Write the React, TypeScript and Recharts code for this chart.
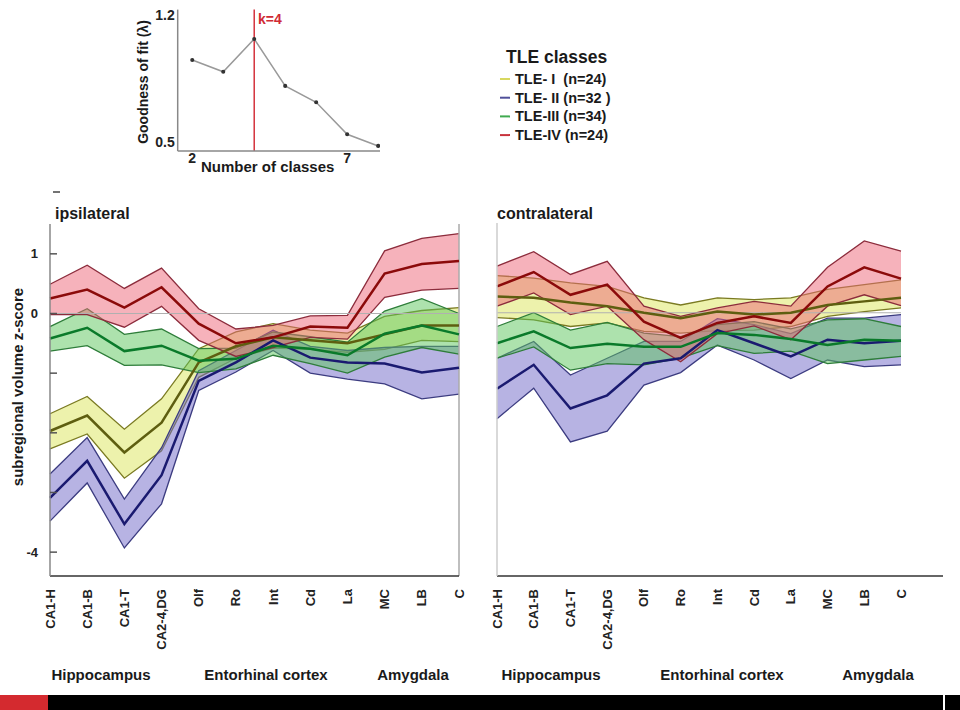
import React from 'react';
import {
  ComposedChart, LineChart, Line, Area, XAxis, YAxis, ReferenceLine,
} from 'recharts';

// subregions along the x axis
const regions = ['CA1-H', 'CA1-B', 'CA1-T', 'CA2-4,DG', 'Olf', 'Ro', 'Int', 'Cd', 'La', 'MC', 'LB', 'C'];

// ipsilateral: mean and band (lo / hi) per class
const ipsiIMean = [-1.97, -1.71, -2.33, -1.83, -0.82, -0.55, -0.4, -0.45, -0.5, -0.35, -0.2, -0.2];
const ipsiIHi = [-1.68, -1.39, -1.94, -1.43, -0.59, -0.31, -0.17, -0.28, -0.33, -0.05, 0.05, 0.1];
const ipsiILo = [-2.27, -2.02, -2.76, -2.3, -1.07, -0.75, -0.58, -0.6, -0.65, -0.6, -0.45, -0.47];

const ipsiIIMean = [-3.09, -2.47, -3.53, -2.71, -1.13, -0.82, -0.45, -0.74, -0.82, -0.84, -0.99, -0.91];
const ipsiIIHi = [-2.69, -2.08, -3.11, -2.25, -0.96, -0.62, -0.28, -0.55, -0.62, -0.57, -0.55, -0.55];
const ipsiIILo = [-3.48, -2.84, -3.93, -3.19, -1.29, -0.98, -0.62, -1.0, -1.1, -1.18, -1.43, -1.35];

const ipsiIIIMean = [-0.42, -0.24, -0.63, -0.54, -0.79, -0.76, -0.54, -0.59, -0.7, -0.34, -0.2, -0.35];
const ipsiIIIHi = [-0.22, 0.08, -0.35, -0.26, -0.59, -0.58, -0.31, -0.39, -0.48, 0.04, 0.25, 0.0];
const ipsiIIILo = [-0.63, -0.54, -0.87, -0.86, -0.99, -0.93, -0.7, -0.84, -1.0, -0.73, -0.57, -0.68];

const ipsiIVMean = [0.25, 0.4, 0.1, 0.44, -0.17, -0.5, -0.4, -0.22, -0.24, 0.67, 0.83, 0.88];
const ipsiIVHi = [0.49, 0.81, 0.42, 0.76, 0.08, -0.26, -0.2, -0.04, -0.03, 1.05, 1.26, 1.34];
const ipsiIVLo = [-0.02, -0.02, -0.23, 0.12, -0.45, -0.72, -0.57, -0.4, -0.43, 0.27, 0.39, 0.42];

// contralateral
const contraIMean = [0.27, 0.25, 0.17, 0.11, 0, -0.09, 0.02, -0.03, 0, 0.13, 0.19, 0.25];
const contraIHi = [0.62, 0.58, 0.5, 0.44, 0.25, 0.13, 0.25, 0.22, 0.25, 0.39, 0.47, 0.55];
const contraILo = [-0.08, -0.12, -0.23, -0.17, -0.31, -0.34, -0.3, -0.29, -0.23, -0.06, 0.02, 0.08];

const contraIIMean = [-1.27, -0.87, -1.6, -1.38, -0.85, -0.76, -0.29, -0.51, -0.73, -0.45, -0.51, -0.47];
const contraIIHi = [-0.76, -0.48, -1.04, -0.76, -0.48, -0.48, -0.1, -0.2, -0.35, -0.09, -0.09, -0.03];
const contraIILo = [-1.77, -1.26, -2.16, -1.98, -1.21, -1.0, -0.54, -0.79, -1.1, -0.79, -0.9, -0.87];

const contraIIIMean = [-0.51, -0.31, -0.59, -0.52, -0.57, -0.57, -0.34, -0.37, -0.44, -0.54, -0.45, -0.47];
const contraIIIHi = [-0.23, 0.0, -0.29, -0.16, -0.34, -0.4, -0.2, -0.15, -0.27, -0.12, -0.1, -0.23];
const contraIIILo = [-0.76, -0.57, -0.96, -0.85, -0.87, -0.76, -0.55, -0.68, -0.64, -0.85, -0.79, -0.73];

const contraIVMean = [0.44, 0.68, 0.3, 0.47, -0.15, -0.42, -0.17, -0.06, -0.17, 0.44, 0.76, 0.57];
const contraIVHi = [0.78, 1.02, 0.64, 0.86, 0.11, -0.06, 0.08, 0.19, 0.11, 0.76, 1.2, 1.03];
const contraIVLo = [0.11, 0.33, -0.03, 0.11, -0.45, -0.82, -0.35, -0.22, -0.45, 0.11, 0.3, 0.12];

// inset: goodness of fit by number of classes
const classCounts = [2, 3, 4, 5, 6, 7, 8];
const fitValues = [0.952, 0.887, 1.068, 0.809, 0.719, 0.542, 0.478];

const legendItems = [
  { label: 'TLE- I  (n=24)', color: '#d8d860' },
  { label: 'TLE- II (n=32 )', color: '#50509a' },
  { label: 'TLE-III (n=34)', color: '#40aa50' },
  { label: 'TLE-IV (n=24)', color: '#c8323c' },
];

const STYLE = {
  I: { fill: '#dce65a', edge: '#7a7a22', mean: '#5e5e10' },
  II: { fill: '#7068c8', edge: '#3c3c80', mean: '#1a1a70' },
  III: { fill: '#5cc65c', edge: '#2e7d3a', mean: '#0a7a2a' },
  IV: { fill: '#ee6677', edge: '#8c2c3c', mean: '#8b0a0a' },
};

const FONT = '"Liberation Sans", Arial, sans-serif';

const buildRows = (sets: Record<string, number[][]>) =>
  regions.map((region, i) => {
    const row: any = { region };
    Object.keys(sets).forEach((k) => {
      const [mean, lo, hi] = sets[k];
      row[k] = [lo[i], hi[i]];
      row[k + 'm'] = mean[i];
    });
    return row;
  });

const ipsiData = buildRows({
  I: [ipsiIMean, ipsiILo, ipsiIHi],
  II: [ipsiIIMean, ipsiIILo, ipsiIIHi],
  III: [ipsiIIIMean, ipsiIIILo, ipsiIIIHi],
  IV: [ipsiIVMean, ipsiIVLo, ipsiIVHi],
});

const contraData = buildRows({
  I: [contraIMean, contraILo, contraIHi],
  II: [contraIIMean, contraIILo, contraIIHi],
  III: [contraIIIMean, contraIIILo, contraIIIHi],
  IV: [contraIVMean, contraIVLo, contraIVHi],
});

const fitData = classCounts.map((k, i) => ({ k, fit: fitValues[i] }));

const RegionTick = ({ x, y, payload }: any) => (
  <text
    x={x}
    y={y + 5}
    transform={`rotate(-90 ${x} ${y + 5})`}
    textAnchor="end"
    dy="0.35em"
    fontFamily={FONT}
    fontWeight="bold"
    fontSize={13}
    fill="#222"
  >
    {payload.value}
  </text>
);

const ZTick = ({ x, y, payload }: any) => {
  const v = payload.value;
  const show = v === 1 || v === 0 || v === -4;
  return (
    <g>
      <line x1={x + 10} x2={x + 17} y1={y} y2={y} stroke="#555" strokeWidth={1.5} />
      {show && (
        <text x={x - 2} y={y} dy="0.35em" textAnchor="end" fontFamily={FONT} fontWeight="bold" fontSize={13} fill="#222">
          {v}
        </text>
      )}
    </g>
  );
};

const order = ['I', 'II', 'III', 'IV'] as const;

function renderSeries() {
  const out: any[] = [];
  order.forEach((k) => {
    out.push(
      <Area
        key={k}
        type="linear"
        dataKey={k}
        fill={STYLE[k].fill}
        fillOpacity={0.5}
        stroke={STYLE[k].edge}
        strokeWidth={1.3}
        isAnimationActive={false}
        activeDot={false}
      />
    );
  });
  order.forEach((k) => {
    out.push(
      <Line
        key={k + 'm'}
        type="linear"
        dataKey={k + 'm'}
        stroke={STYLE[k].mean}
        strokeWidth={2.5}
        dot={false}
        activeDot={false}
        isAnimationActive={false}
      />
    );
  });
  return out;
}

function PanelChart({ data, left, side }: { data: any[]; left: number; side: 'ipsi' | 'contra' }) {
  const ipsi = side === 'ipsi';
  return (
    <div style={{ position: 'absolute', left, top: 180 }}>
      <ComposedChart
        width={ipsi ? 470 : 480}
        height={480}
        data={data}
        margin={ipsi ? { top: 44, right: 11, bottom: 4, left: 10 } : { top: 43, right: 7, bottom: 4, left: 17 }}
      >
        <XAxis
          dataKey="region"
          type="category"
          scale="point"
          interval={0}
          padding={ipsi ? { left: 0, right: 0 } : { left: 0, right: 42 }}
          height={80}
          tickLine={false}
          tick={<RegionTick />}
          axisLine={{ stroke: '#333', strokeWidth: 1.5 }}
        />
        <YAxis
          type="number"
          domain={[-4.4, 1.5]}
          allowDataOverflow
          width={ipsi ? 40 : 10}
          ticks={ipsi ? [1, 0, -1, -2, -3, -4] : []}
          tick={ipsi ? <ZTick /> : false}
          tickLine={false}
          tickSize={0}
          tickMargin={10}
          axisLine={{ stroke: ipsi ? '#888' : '#ccc', strokeWidth: 1.5 }}
        />
        <ReferenceLine
          segment={[{ x: 'CA1-H', y: 0 }, { x: 'C', y: 0 }]}
          stroke="#b0b0b0"
          strokeWidth={1.2}
        />
        {ipsi && <ReferenceLine x="C" stroke="#aaa" strokeWidth={1.5} />}
        {renderSeries()}
      </ComposedChart>
    </div>
  );
}

function FitInset() {
  return (
    <div style={{ position: 'absolute', left: 100, top: 0 }}>
      <LineChart width={300} height={185} data={fitData} margin={{ top: 9.6, right: 20, bottom: 4, left: 37.7 }}>
        <XAxis
          dataKey="k"
          type="number"
          domain={[1.53, 8.06]}
          allowDataOverflow
          ticks={[2, 7]}
          height={30}
          tickLine={false}
          tickSize={0}
          tickMargin={2}
          axisLine={{ stroke: '#888', strokeWidth: 1.5 }}
          tick={{ fontFamily: FONT, fontWeight: 'bold', fontSize: 14, fill: '#222' }}
        />
        <YAxis
          type="number"
          domain={[0.45, 1.23]}
          allowDataOverflow
          ticks={[0.5, 1.2]}
          tickFormatter={(v: number) => v.toFixed(1)}
          width={40}
          tickLine={false}
          tickSize={0}
          tickMargin={3}
          axisLine={{ stroke: '#888', strokeWidth: 1.5 }}
          tick={{ fontFamily: FONT, fontWeight: 'bold', fontSize: 14, fill: '#222' }}
        />
        <ReferenceLine x={4} stroke="#d4323c" strokeWidth={1.5} />
        <Line
          dataKey="fit"
          type="linear"
          stroke="#9a9a9a"
          strokeWidth={1.5}
          dot={{ r: 1.3, fill: '#333', stroke: '#333' }}
          activeDot={false}
          isAnimationActive={false}
        />
      </LineChart>
    </div>
  );
}

const groupLabels = [
  { text: 'Hippocampus', x: 101 },
  { text: 'Entorhinal cortex', x: 266 },
  { text: 'Amygdala', x: 413 },
  { text: 'Hippocampus', x: 551 },
  { text: 'Entorhinal cortex', x: 722 },
  { text: 'Amygdala', x: 878 },
];

export default function App() {
  const t = { fontFamily: FONT, fontWeight: 'bold' as const, fill: '#1a1a1a' };
  return (
    <div style={{ position: 'absolute', left: 0, top: 0, width: 960, height: 710, background: '#fff', overflow: 'hidden' }}>
      <FitInset />
      <PanelChart data={ipsiData} left={0} side="ipsi" />
      <PanelChart data={contraData} left={470} side="contra" />
      <svg width={960} height={710} style={{ position: 'absolute', left: 0, top: 0, pointerEvents: 'none' }}>
        {/* inset labels */}
        <text x={258} y={24} {...t} fill="#d02a35" fontSize={14}>k=4</text>
        <text x={201} y={172} {...t} fontSize={15}>Number of classes</text>
        <text x={143} y={82} {...t} fontSize={14} textAnchor="middle" transform="rotate(-90 143 82)" dy="0.35em">
          Goodness of fit (λ)
        </text>

        {/* legend */}
        <text x={506} y={63} {...t} fontSize={17.5}>TLE classes</text>
        {legendItems.map((d, i) => {
          const cy = 79 + i * 18.7;
          return (
            <g key={d.label}>
              <line x1={500} x2={510} y1={cy} y2={cy} stroke={d.color} strokeWidth={2} />
              <text x={515} y={cy + 5} {...t} fontSize={14.5} style={{ whiteSpace: 'pre' }}>{d.label}</text>
            </g>
          );
        })}

        {/* panel titles */}
        <text x={55} y={219} {...t} fontSize={16}>ipsilateral</text>
        <text x={497} y={219} {...t} fontSize={16}>contralateral</text>
        <line x1={53} x2={60} y1={192} y2={192} stroke="#444" strokeWidth={1.5} />

        <text x={18} y={387} {...t} fontSize={15} textAnchor="middle" transform="rotate(-90 18 387)" dy="0.35em">
          subregional volume z-score
        </text>

        {groupLabels.map((g, i) => (
          <text key={i} x={g.x} y={680} {...t} fontSize={15} textAnchor="middle">{g.text}</text>
        ))}
      </svg>
      <div style={{ position: 'absolute', left: 0, top: 695, width: 48, height: 15, background: '#d42a2f' }} />
      <div style={{ position: 'absolute', left: 48, top: 695, width: 895, height: 15, background: '#000' }} />
      <div style={{ position: 'absolute', left: 945, top: 695, width: 15, height: 15, background: '#000' }} />
    </div>
  );
}
